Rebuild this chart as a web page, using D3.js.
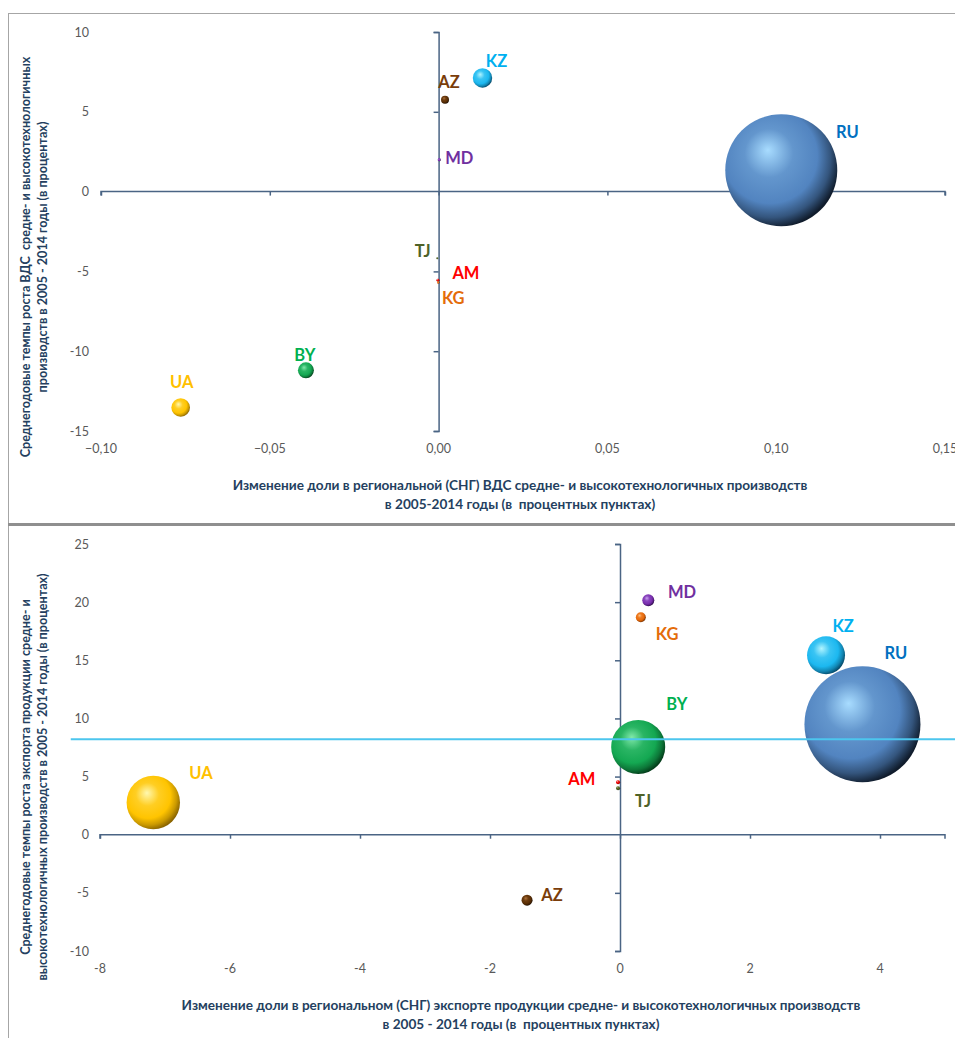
<!DOCTYPE html>
<html>
<head>
<meta charset="utf-8">
<script src="https://cdn.jsdelivr.net/npm/d3@7"></script>
<style>
  html, body { margin: 0; padding: 0; background: #fff; }
  svg { display: block; }
  text { white-space: pre; }
</style>
</head>
<body>
<svg id="chart" width="955" height="1038"></svg>
<script>
// ---------- DATA ----------
const countries = ["UA", "BY", "AZ", "KZ", "MD", "TJ", "AM", "KG", "RU"];

// Top chart: change in share of regional (CIS) GVA, p.p. vs average growth of GVA, %
const topX    = [-0.0764, -0.0393, 0.0019, 0.0130, 0.0002, -0.0004, -0.0002, -0.0001, 0.1015];
const topY    = [-13.53, -11.20, 5.76, 7.12, 2.00, -4.18, -5.55, -5.70, 1.34];
const topSize = [2.76, 2.04, 0.51, 3.00, 0.08, 0.03, 0.07, 0.05, 100];
const topXTicks = [-0.10, -0.05, 0.00, 0.05, 0.10, 0.15];
const topYTicks = [10, 5, 0, -5, -10, -15];

// Bottom chart: change in share of regional (CIS) exports, p.p. vs average export growth, %
const botX    = [-7.18, 0.28, -1.43, 3.17, 0.435, -0.03, -0.03, 0.32, 3.73];
const botY    = [2.77, 7.55, -5.63, 15.43, 20.16, 4.00, 4.51, 18.70, 9.50];
const botSize = [21.2, 21.7, 0.90, 10.7, 1.07, 0.12, 0.12, 0.74, 100];
const botXTicks = [-8, -6, -4, -2, 0, 2, 4];
const botYTicks = [25, 20, 15, 10, 5, 0, -5, -10];
const botAverageGrowth = 8.2;   // horizontal reference line
const botRefLineX = [-8.45, 5.2];

// Titles
const topXTitle = ["Изменение доли в региональной (СНГ) ВДС средне- и высокотехнологичных производств",
                   "в 2005-2014 годы (в  процентных пунктах)"];
const topYTitle = ["Среднегодовые темпы роста ВДС  средне- и высокотехнологичных",
                   "производств в 2005 - 2014 годы (в процентах)"];
const botXTitle = ["Изменение доли в региональном (СНГ) экспорте продукции средне- и высокотехнологичных производств",
                   "в 2005 - 2014 годы (в  процентных пунктах)"];
const botYTitle = ["Среднегодовые темпы роста экспорта продукции средне- и",
                   "высокотехнологичных производств в 2005 - 2014 годы (в процентах)"];

// ---------- STYLE ----------
const labelColor = {UA:"#ffc000", BY:"#00b050", AZ:"#7a3d0a", KZ:"#00b0f0", MD:"#7030a0",
                    TJ:"#4f6228", AM:"#ff0000", KG:"#e46c0a", RU:"#0070c0"};
const sphere = {  // highlight, base, dark edge
  UA:["#fff8b0","#ffc400","#8a6400"], BY:["#80e8aa","#14a852","#043d1a"],
  AZ:["#b0733a","#5c2f05","#1e0e00"], KZ:["#b0f4ff","#1cb8f0","#064a6a"],
  MD:["#c9a0f0","#7a2fb0","#2a0a44"], TJ:["#8fa050","#4f6228","#1f2a0a"],
  AM:["#ff9090","#e80000","#600000"], KG:["#ffc080","#e86a0a","#6a2a00"],
  RU:["#a8dcff","#5284c0","#101c2c"]
};
const topLabelOff = {UA:[1,-26], BY:[-1,-15], AZ:[4,-17.5], KZ:[14,-17], MD:[20,-1.6],
                     TJ:[-14.5,-7.3], AM:[28,-7], KG:[15,15.7], RU:[66,-38]};
const botLabelOff = {UA:[47.7,-29.3], BY:[38.7,-42.7], AZ:[25,-5], KZ:[17,-29], MD:[33.7,-8],
                     TJ:[25,13], AM:[-36.3,-3], KG:[26.3,17], RU:[33.5,-71]};

const FONT = "Lato, 'Open Sans', 'DejaVu Sans', sans-serif";
const axisColor = "#4a6484";
const tickTextColor = "#595959";
const titleColor = "#243f60";

const svg = d3.select("#chart");
const defs = svg.append("defs");

function makeGrad(id, c) {
  const g = defs.append("radialGradient").attr("id", id)
    .attr("cx", "41%").attr("cy", "40%").attr("r", "62%")
    .attr("fx", "38%").attr("fy", "32%");
  g.append("stop").attr("offset", "0%").attr("stop-color", c[0]);
  g.append("stop").attr("offset", "35%").attr("stop-color", d3.interpolateRgb(c[0], c[1])(0.8));
  g.append("stop").attr("offset", "68%").attr("stop-color", c[1]);
  g.append("stop").attr("offset", "86%").attr("stop-color", d3.interpolateRgb(c[1], c[2])(0.45));
  g.append("stop").attr("offset", "100%").attr("stop-color", c[2]);
}
countries.forEach(c => makeGrad("g-" + c, sphere[c]));

// ---------- FRAME ----------
svg.append("line").attr("x1", 8).attr("x2", 955).attr("y1", 13.5).attr("y2", 13.5)
  .attr("stroke", "#a6a6a6").attr("stroke-width", 1);
svg.append("line").attr("x1", 8.5).attr("x2", 8.5).attr("y1", 13).attr("y2", 1038)
  .attr("stroke", "#a6a6a6").attr("stroke-width", 1);
svg.append("line").attr("x1", 8).attr("x2", 955).attr("y1", 524.5).attr("y2", 524.5)
  .attr("stroke", "#8f8f8f").attr("stroke-width", 3);

// ---------- GENERIC PANEL ----------
function panel(cfg) {
  const g = svg.append("g");
  const x = d3.scaleLinear().domain(cfg.xDomain).range(cfg.xRange);
  const y = d3.scaleLinear().domain(cfg.yDomain).range(cfg.yRange);
  const r = d3.scaleSqrt().domain([0, 100]).range([0, cfg.maxR]);

  // x axis line at y=0 with ticks downward
  const xAxis = d3.axisBottom(x).tickValues(cfg.xTicks).tickSize(4).tickFormat("");
  const gx = g.append("g").attr("transform", `translate(0,${y(0)})`).call(xAxis);
  gx.select(".domain").attr("d", `M${cfg.xRange[0]},4V0H${cfg.xRange[1]}V4`);
  gx.selectAll("path,line").attr("stroke", axisColor).attr("stroke-width", 1.5);

  // y axis line at x=0 with ticks to the left
  const yAxis = d3.axisLeft(y).tickValues(cfg.yTicks).tickSize(5).tickFormat("");
  const gy = g.append("g").attr("transform", `translate(${x(0)},0)`).call(yAxis);
  gy.selectAll("path,line").attr("stroke", axisColor).attr("stroke-width", 1.5);
  gy.selectAll(".tick").filter(d => d === 0).remove();

  // tick labels (low position)
  g.selectAll(".xl").data(cfg.xTicks).join("text")
    .attr("x", d => x(d)).attr("y", cfg.xLabelY)
    .attr("text-anchor", "middle").attr("dominant-baseline", "central")
    .attr("font-family", FONT).attr("font-size", 12.5).attr("fill", tickTextColor)
    .text(cfg.xFmt);
  g.selectAll(".yl").data(cfg.yTicks).join("text")
    .attr("x", cfg.yLabelX).attr("y", d => y(d))
    .attr("text-anchor", "end").attr("dominant-baseline", "central")
    .attr("font-family", FONT).attr("font-size", 12.5).attr("fill", tickTextColor)
    .text(d => String(d));

  // bubbles: largest first
  const data = countries.map((c, i) => ({c, x: cfg.xs[i], y: cfg.ys[i], s: cfg.sizes[i]}))
    .sort((a, b) => b.s - a.s);
  g.selectAll(".bubble").data(data).join("circle")
    .attr("cx", d => x(d.x)).attr("cy", d => y(d.y)).attr("r", d => Math.max(1, r(d.s)))
    .attr("fill", d => `url(#g-${d.c})`);

  // reference line
  if (cfg.refY !== undefined) {
    g.append("line")
      .attr("x1", x(cfg.refX[0])).attr("x2", x(cfg.refX[1]))
      .attr("y1", y(cfg.refY)).attr("y2", y(cfg.refY))
      .attr("stroke", "#4cc6ee").attr("stroke-width", 2);
  }

  // labels
  g.selectAll(".lab").data(data).join("text")
    .attr("x", d => x(d.x) + cfg.off[d.c][0]).attr("y", d => y(d.y) + cfg.off[d.c][1])
    .attr("text-anchor", "middle").attr("dominant-baseline", "central")
    .attr("font-family", FONT).attr("font-weight", "bold").attr("font-size", 16.5)
    .attr("fill", d => labelColor[d.c]).text(d => d.c);

  // x title
  g.selectAll(".xt").data(cfg.xTitle).join("text")
    .attr("x", cfg.xTitleX).attr("y", (d, i) => cfg.xTitleY + i * 18.5)
    .attr("text-anchor", "middle").attr("dominant-baseline", "central")
    .attr("font-family", FONT).attr("font-weight", "bold").attr("font-size", 13.6)
    .attr("fill", titleColor).text(d => d);
  // y title
  g.selectAll(".yt").data(cfg.yTitle).join("text")
    .attr("transform", (d, i) => `translate(${cfg.yTitleX + i * 17.5},${cfg.yTitleY}) rotate(-90)`)
    .attr("text-anchor", "middle").attr("dominant-baseline", "central")
    .attr("font-family", FONT).attr("font-weight", "bold").attr("font-size", 12.6)
    .attr("fill", titleColor).text(d => d);
}

const commaFmt = d => d3.format(".2f")(d).replace(".", ",");

panel({
  xDomain: [-0.10, 0.15], xRange: [101, 945],
  yDomain: [-15, 10], yRange: [431, 32],
  xTicks: topXTicks, yTicks: topYTicks,
  xs: topX, ys: topY, sizes: topSize, maxR: 56,
  off: topLabelOff,
  xFmt: commaFmt, xLabelY: 448, yLabelX: 89,
  xTitle: topXTitle, xTitleX: 520, xTitleY: 485,
  yTitle: topYTitle, yTitleX: 25, yTitleY: 257
});

panel({
  xDomain: [-8, 5], xRange: [100, 945],
  yDomain: [-10, 25], yRange: [951, 544],
  xTicks: botXTicks, yTicks: botYTicks,
  xs: botX, ys: botY, sizes: botSize, maxR: 58,
  off: botLabelOff,
  xFmt: d => String(d), xLabelY: 968, yLabelX: 89,
  refY: botAverageGrowth, refX: botRefLineX,
  xTitle: botXTitle, xTitleX: 521, xTitleY: 1005,
  yTitle: botYTitle, yTitleX: 25, yTitleY: 777
});
</script>
</body>
</html>
